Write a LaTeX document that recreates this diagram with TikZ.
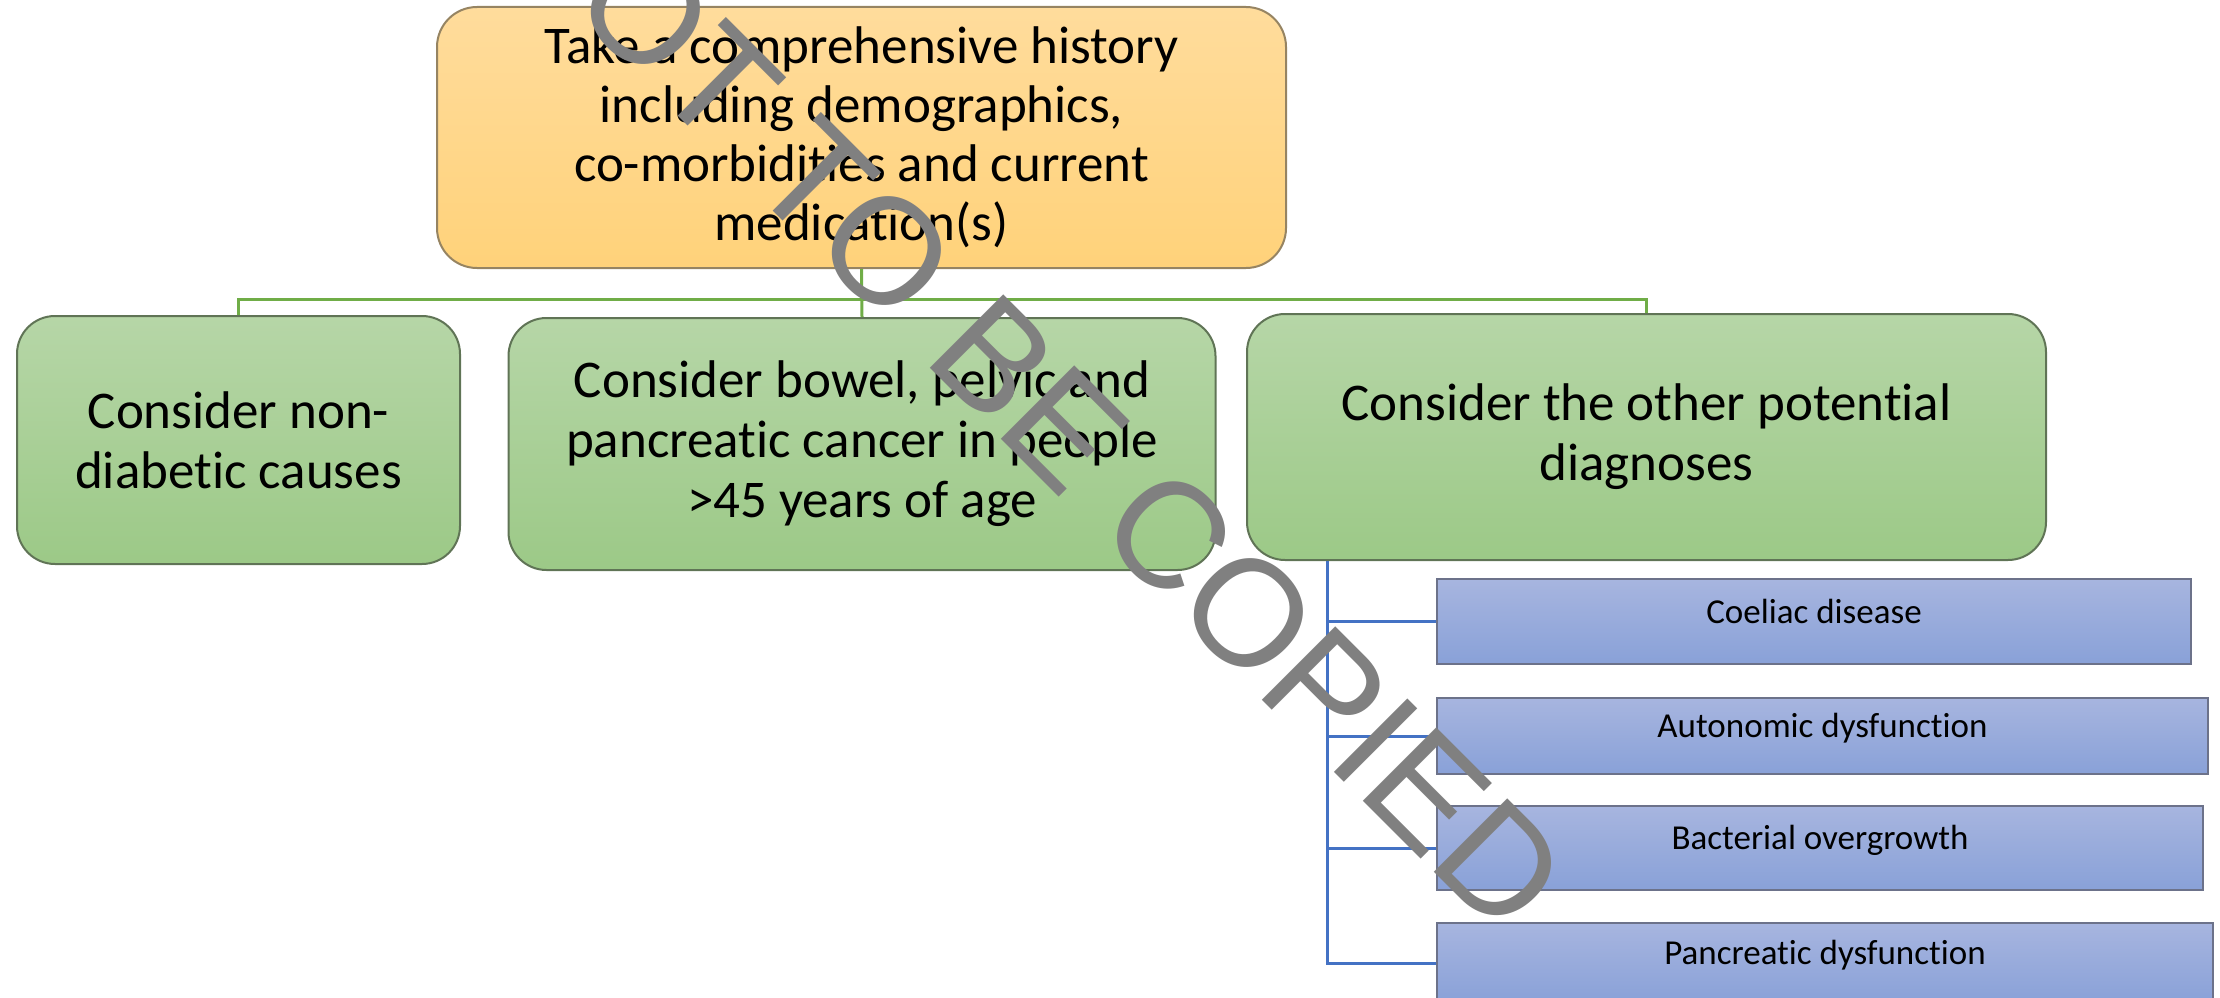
\documentclass[tikz,border=0pt]{standalone}
\usepackage{fontspec}
\setmainfont{Carlito}[Ligatures=NoCommon]
\newfontfamily\wmfont{Liberation Sans}

\definecolor{topA}{RGB}{255,220,156}
\definecolor{topB}{RGB}{255,210,122}
\definecolor{topEdge}{RGB}{150,132,98}
\definecolor{grnA}{RGB}{182,214,167}
\definecolor{grnB}{RGB}{156,201,135}
\definecolor{grnEdge}{RGB}{96,116,86}
\definecolor{bluA}{RGB}{167,181,223}
\definecolor{bluB}{RGB}{137,161,216}
\definecolor{bluEdge}{RGB}{108,114,138}
\definecolor{grnLine}{RGB}{112,173,71}
\definecolor{bluLine}{RGB}{68,114,196}
\definecolor{wmGray}{RGB}{128,128,128}

\tikzset{
  headbox/.style={draw=topEdge, line width=2pt, rounded corners=40pt,
    top color=topA, bottom color=topB, align=center, inner sep=0pt,
    font=\fontsize{53}{59}\selectfont},
  greenbox/.style={draw=grnEdge, line width=2pt, rounded corners=38pt,
    top color=grnA, bottom color=grnB, align=center, inner sep=0pt,
    font=\fontsize{53}{60}\selectfont},
  bluebox/.style={draw=bluEdge, line width=2pt,
    top color=bluA, bottom color=bluB, inner sep=0pt,
    text height=25pt, text depth=22pt,
    font=\fontsize{35}{42}\selectfont},
  greenlink/.style={draw=grnLine, line width=3pt},
  bluelink/.style={draw=bluLine, line width=3pt},
  stamp/.style={text=wmGray, inner sep=0pt,
    font=\wmfont\fontsize{151}{151}\selectfont}
}

\begin{document}
\begin{tikzpicture}[x=1pt,y=-1pt]
  \useasboundingbox (0,0) rectangle (2220,998);

  % top step
  \node[headbox, minimum width=849pt, minimum height=261pt] (hist) at (861.5,137.5)
    {Take a comprehensive history\\including demographics,\\co-morbidities and current\\medication(s)};

  % second row
  \node[greenbox, minimum width=443pt, minimum height=248pt] (nondiab) at (238.5,440)
    {Consider non-\\diabetic causes};
  \node[greenbox, minimum width=707pt, minimum height=252pt] (cancer) at (862,444)
    {Consider bowel, pelvic and\\pancreatic cancer in people\\>45 years of age};
  \node[greenbox, minimum width=799pt, minimum height=246pt] (other) at (1646.5,437)
    {Consider the other potential\\diagnoses};

  % list of other diagnoses
  \node[bluebox, minimum width=754pt, minimum height=85pt] (coel) at (1814,621.5) {Coeliac disease};
  \node[bluebox, minimum width=771pt, minimum height=76pt] (auto) at (1822.5,736) {Autonomic dysfunction};
  \node[bluebox, minimum width=766pt, minimum height=84pt] (bact) at (1820,848) {Bacterial overgrowth};
  \node[bluebox, minimum width=776pt, minimum height=80pt] (panc) at (1825,963) {Pancreatic dysfunction};

  % green tree links
  \draw[greenlink] (hist.south) -- ++(0,30) -| (nondiab.north);
  \draw[greenlink] (hist.south) -- ++(0,30) -| (other.north);
  \draw[greenlink] (hist.south) -- (cancer.north);

  % blue list links
  \coordinate (trunk) at (1327,0);
  \foreach \d in {coel,auto,bact,panc}
    \draw[bluelink] (other.south -| trunk) |- (\d.west);

  % watermark
  \node[stamp, rotate=-45, anchor=base west] (mark) at (490,-72) {NOT TO BE COPIED};
\end{tikzpicture}
\end{document}
